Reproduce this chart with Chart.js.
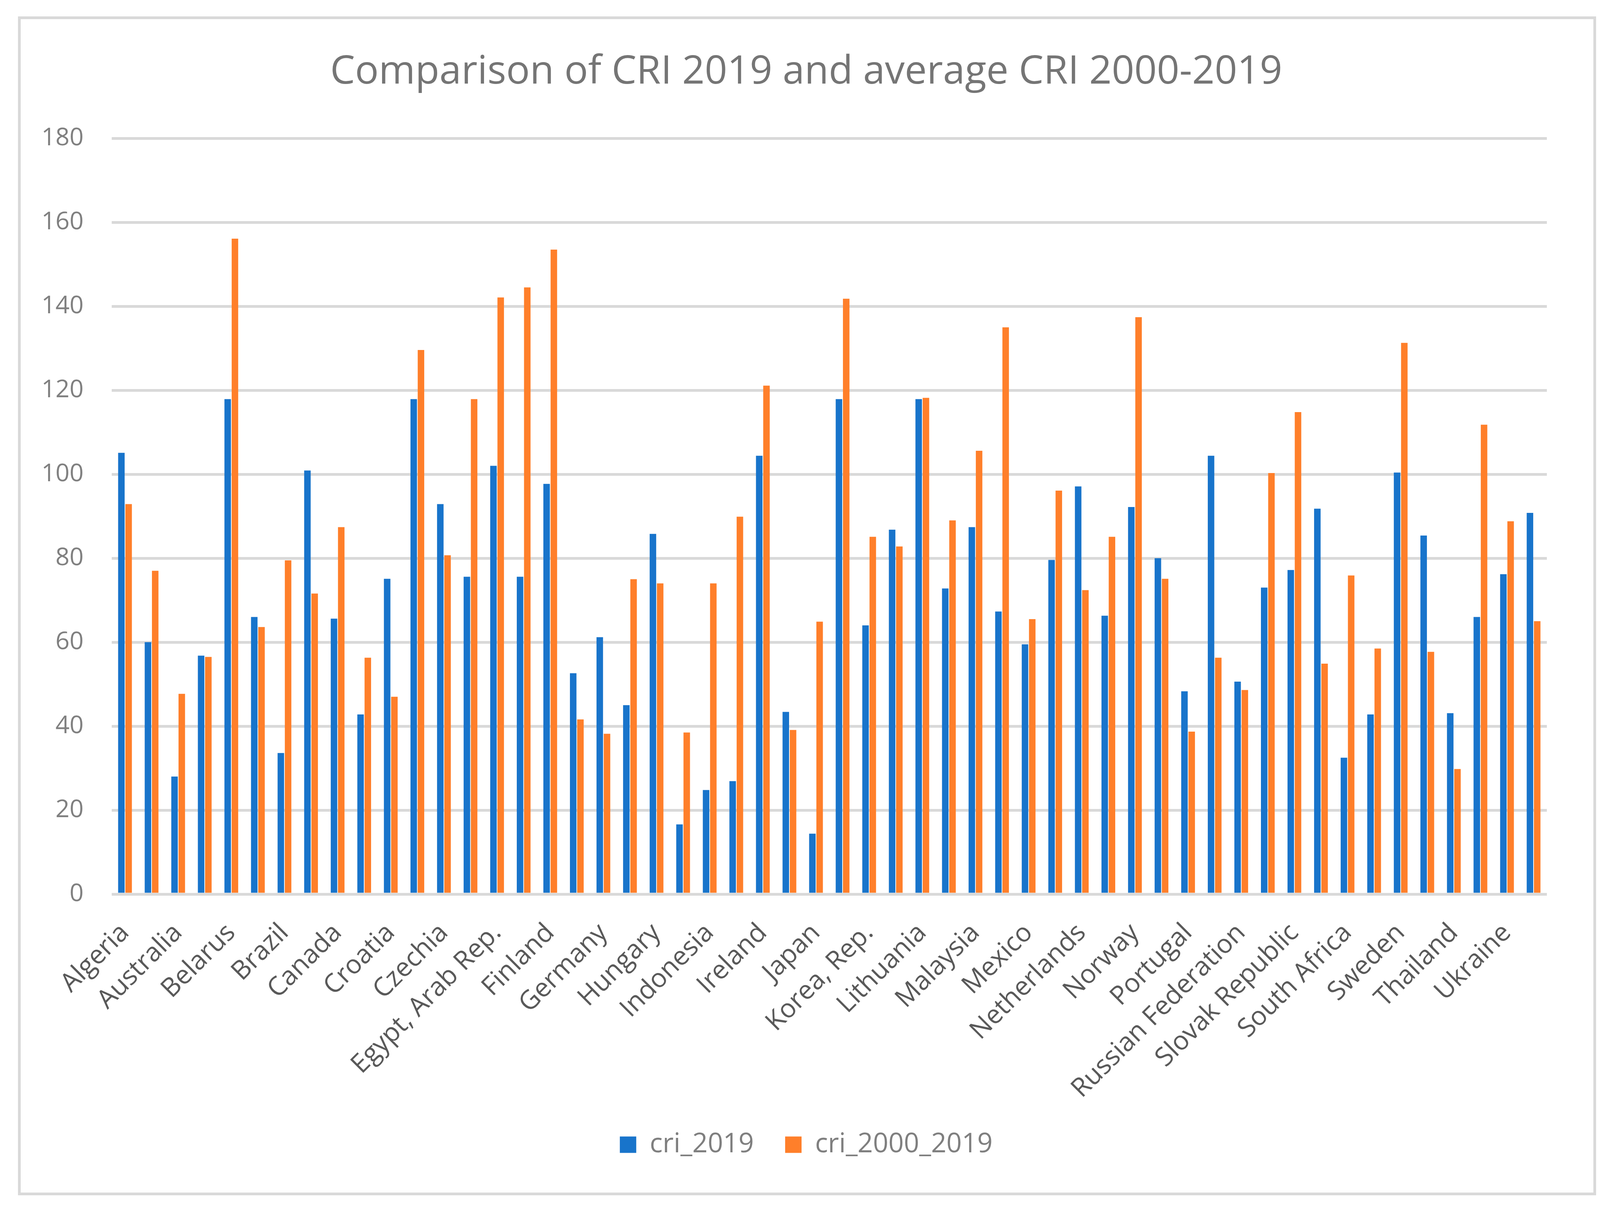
<!DOCTYPE html>
<html>
<head>
<meta charset="utf-8">
<script src="https://cdn.jsdelivr.net/npm/chart.js@4.4.1/dist/chart.umd.min.js"></script>
<style>
  html, body { margin: 0; padding: 0; background: #fff; }
  #wrap { position: relative; width: 4128px; height: 3090px; }
  #frame {
    position: absolute; left: 46px; top: 42px; width: 4040px; height: 3018px;
    box-sizing: border-box; border: 7px solid #d9d9d9; pointer-events: none;
  }
</style>
</head>
<body>
<div id="wrap">
  <canvas id="chart" width="4128" height="3090"></canvas>
  <div id="frame"></div>
</div>
<script>
// 54 countries; the original only prints every other name, the blank ones are unlabeled
const countries = [
  'Algeria', '', 'Australia', '', 'Belarus', '', 'Brazil', '', 'Canada', '',
  'Croatia', '', 'Czechia', '', 'Egypt, Arab Rep.', '', 'Finland', '', 'Germany', '',
  'Hungary', '', 'Indonesia', '', 'Ireland', '', 'Japan', '', 'Korea, Rep.', '',
  'Lithuania', '', 'Malaysia', '', 'Mexico', '', 'Netherlands', '', 'Norway', '',
  'Portugal', '', 'Russian Federation', '', 'Slovak Republic', '', 'South Africa', '', 'Sweden', '',
  'Thailand', '', 'Ukraine', ''
];

const cri2019 = [
  105.1, 60.0, 28.0, 56.8, 117.9, 66.0, 33.6, 100.9, 65.6, 42.8,
  75.1, 117.9, 92.9, 75.6, 102.0, 75.6, 97.7, 52.6, 61.2, 45.0,
  85.8, 16.6, 24.8, 26.9, 104.4, 43.4, 14.4, 117.9, 64.0, 86.8,
  117.9, 72.8, 87.4, 67.3, 59.5, 79.6, 97.1, 66.3, 92.2, 80.0,
  48.3, 104.4, 50.6, 73.0, 77.2, 91.8, 32.5, 42.8, 100.4, 85.4,
  43.1, 66.0, 76.2, 90.8
];

const cri2000_2019 = [
  92.9, 77.0, 47.7, 56.5, 156.1, 63.6, 79.5, 71.6, 87.4, 56.3,
  47.0, 129.6, 80.7, 117.9, 142.1, 144.5, 153.5, 41.6, 38.2, 75.0,
  74.0, 38.5, 74.0, 89.9, 121.1, 39.1, 64.9, 141.8, 85.1, 82.8,
  118.2, 89.0, 105.6, 135.0, 65.5, 96.1, 72.4, 85.1, 137.4, 75.1,
  38.7, 56.3, 48.6, 100.3, 114.8, 54.9, 75.9, 58.5, 131.3, 57.7,
  29.8, 111.8, 88.8, 65.0
];

const yMin = 0;
const yMax = 180;
const yStep = 20;

const FONT = "'Open Sans', 'DejaVu Sans', sans-serif";

const ctx = document.getElementById('chart').getContext('2d');
const chart = new Chart(ctx, {
  type: 'bar',
  data: {
    labels: countries,
    datasets: [
      {
        label: 'cri_2019',
        data: cri2019,
        backgroundColor: '#1874cb',
        categoryPercentage: 0.545,
        barPercentage: 0.9
      },
      {
        label: 'cri_2000_2019',
        data: cri2000_2019,
        backgroundColor: '#ff7f2a',
        categoryPercentage: 0.545,
        barPercentage: 0.9
      }
    ]
  },
  options: {
    responsive: false,
    animation: false,
    devicePixelRatio: 1,
    layout: {
      padding: { left: 0, right: 0, top: 0, bottom: 115 }
    },
    plugins: {
      title: {
        display: true,
        text: 'Comparison of CRI 2019 and average CRI 2000-2019',
        color: '#757575',
        font: { family: FONT, size: 101, weight: 'normal', lineHeight: 1.2 },
        padding: { top: 125, bottom: 108 }
      },
      legend: {
        position: 'bottom',
        labels: {
          color: '#7f7f7f',
          font: { family: FONT, size: 69 },
          boxWidth: 42,
          boxHeight: 42,
          padding: 80
        }
      },
      tooltip: { enabled: false }
    },
    scales: {
      x: {
        grid: { display: false },
        border: { display: false },
        ticks: {
          autoSkip: false,
          minRotation: 45,
          maxRotation: 45,
          padding: 52,
          color: '#595959',
          font: { family: FONT, size: 67 }
        },
        afterFit: function (scale) { scale.height = 527; }
      },
      y: {
        min: yMin,
        max: yMax,
        grid: { color: '#d9d9d9', lineWidth: 7, drawTicks: false },
        border: { display: false },
        ticks: {
          stepSize: yStep,
          padding: 72,
          color: '#808080',
          font: { family: FONT, size: 63 }
        },
        afterFit: function (scale) { scale.width = 286; }
      },
      // empty right-hand axis, only reserves the margin so the title stays centred on the page
      spacer: {
        type: 'linear',
        position: 'right',
        grid: { display: false },
        border: { display: false },
        ticks: { display: false },
        afterFit: function (scale) { scale.width = 168; }
      }
    }
  }
});
</script>
</body>
</html>
